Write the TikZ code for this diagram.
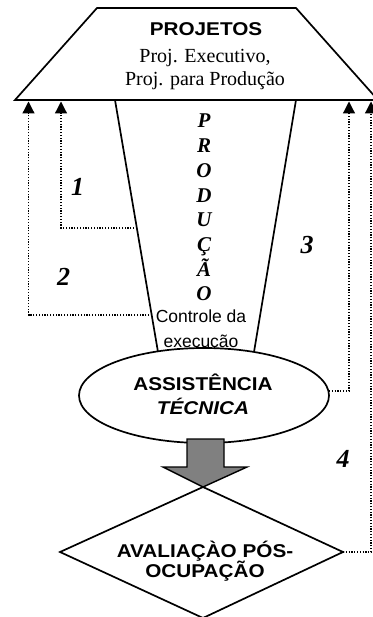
\documentclass[tikz,border=0pt]{standalone}
\usepackage{fontspec}
\setmainfont{Liberation Serif}
\setsansfont{Liberation Sans}
\usetikzlibrary{arrows.meta}
\newcommand\hsx[1]{\scalebox{1.12}[1]{#1}}
\begin{document}
\begin{tikzpicture}[x=1pt,y=-1pt,
  shp/.style={line width=1.7pt, line join=miter, draw=black},
  fdb/.style={line width=1.2pt, dash pattern=on 1.2pt off 1.6pt, -{Triangle[width=12pt,length=12pt]}},
  lab/.style={font=\fontsize{26}{28}\selectfont\bfseries\itshape, anchor=base, inner sep=0},
  ltr/.style={font=\fontsize{21}{23}\selectfont\bfseries\itshape, anchor=base, inner sep=0},
  btx/.style={font=\sffamily\bfseries\fontsize{18.5}{20}\selectfont, anchor=base, inner sep=0},
  stx/.style={font=\fontsize{20}{22}\selectfont, anchor=base, inner sep=0},
  ctx/.style={font=\sffamily\fontsize{17.5}{20}\selectfont, anchor=base, inner sep=0}]
\useasboundingbox (0,0) rectangle (372,617);
% top trapezoid
\draw[shp, fill=white] (97,8) -- (296,8) -- (378,100) -- (15,100) -- cycle;
\coordinate (t1) at (61,101.5);
\coordinate (t2) at (28.5,101.5);
\coordinate (t3) at (349,101.5);
\coordinate (t4) at (371,101.5);
\node[btx] (proj) at (206,36) {\hsx{PROJETOS}};
\node[stx] (pe) at (205,63) {Proj. Executivo,};
\node[stx] (pp) at (205,86) {Proj. para Produção};
% funnel
\draw[shp] (115,100) -- (158,352) -- (254,352) -- (296,100);
\coordinate (f1) at (137,228);
\coordinate (f2) at (152,315);
\foreach \L [count=\i from 0] in {P,R,O,D,U,Ç,Ã,O}
  \node[ltr] (l\i) at (204,128+24.7*\i) {\L};
\node[ctx] (c1) at (201,322) {Controle da};
\node[ctx] (c2) at (201,347) {execução};
% ellipse
\draw[shp, fill=white] (204,395.5) ellipse [x radius=125, y radius=47.5];
\coordinate (e3) at (329,391);
\node[btx] (as1) at (203,390) {\hsx{ASSISTÊNCIA}};
\node[btx] (as2) at (203,414) {\hsx{\itshape TÉCNICA}};
% gray arrow
\draw[line width=1.4pt, fill=black!50, line join=miter] (187,439) -- (224,439) -- (224,467) -- (247,467) -- (203,487) -- (163,467) -- (187,467) -- cycle;
% diamond
\draw[shp, fill=white] (203,487) -- (343,552) -- (203,618) -- (60,552) -- cycle;
\coordinate (d4) at (343,552);
\node[btx] (av1) at (205,557) {\hsx{AVALIAÇÀO PÓS-}};
\node[btx] (av2) at (205,577) {\hsx{OCUPAÇÃO}};
% feedback connectors
\draw[fdb] (f1) -| (t1);
\draw[fdb] (f2) -| (t2);
\draw[fdb] (e3) -| (t3);
\draw[fdb] (d4) -| (t4);
\node[lab] (n1) at (77.5,196) {1};
\node[lab] (n2) at (63.5,285) {2};
\node[lab] (n3) at (307,253) {3};
\node[lab] (n4) at (343,467) {4};
\end{tikzpicture}
\end{document}
